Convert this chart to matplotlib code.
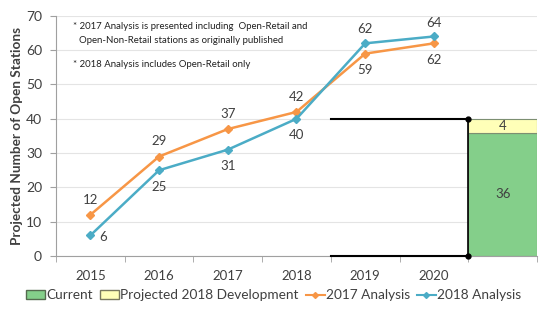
import matplotlib
matplotlib.use("Agg")
import matplotlib.pyplot as plt
from matplotlib.patches import Patch
from matplotlib.lines import Line2D

plt.rcParams['font.family'] = ['Lato', 'DejaVu Sans']

# --- data ---
years = ['2015', '2016', '2017', '2018', '2019', '2020']
analysis_2017 = [12, 29, 37, 42, 59, 62]
analysis_2018 = [6, 25, 31, 40, 62, 64]
current = 36
projected_dev = 4

orange = '#F79646'
blue = '#4BACC6'
green = '#84CF8A'
yellow = '#FFFFB8'
text_col = '#404040'
grid_col = '#E4E4E4'

fig = plt.figure(figsize=(5.51, 3.21), dpi=100)
ax = fig.add_axes([0.1016, 0.2025, 0.873, 0.748])

x = list(range(len(years)))
bar_x = len(years)

# stacked bar in the extra slot on the right
ax.bar(bar_x, current, width=1.0, color=green, edgecolor='#7D8F72', linewidth=0.8, zorder=2)
ax.bar(bar_x, projected_dev, bottom=current, width=1.0, color=yellow,
       edgecolor='#7D8F72', linewidth=0.8, zorder=2)
ax.text(bar_x, current / 2, str(current), ha='center', va='center', fontsize=9.5, color=text_col)
ax.text(bar_x, current + projected_dev / 2, str(projected_dev), ha='center', va='center',
        fontsize=9.5, color=text_col)

# black bracket lines pointing at the bar
edge = bar_x - 0.5
ax.plot([3.5, edge], [current + projected_dev] * 2, color='black', lw=1.5, zorder=4)
ax.plot([3.5, edge], [0, 0], color='black', lw=1.5, zorder=4, clip_on=False)
ax.plot([edge, edge], [0, current + projected_dev], color='black', lw=1.2, zorder=4)
ax.plot([edge, edge], [0, current + projected_dev], 'o', color='black', ms=3.5, zorder=5,
        clip_on=False)

# analysis lines
ax.plot(x, analysis_2017, color=orange, lw=1.8, marker='D', ms=4, zorder=3)
ax.plot(x, analysis_2018, color=blue, lw=1.8, marker='D', ms=4, zorder=3)

# value labels: 2017 above early / below late, 2018 the other way round
for i, v in enumerate(analysis_2017):
    off = 11 if i < 4 else -12
    ax.annotate(str(v), (i, v), xytext=(0, off), textcoords='offset points',
                ha='center', va='center', fontsize=9.5, color=text_col)
for i, v in enumerate(analysis_2018):
    if i == 0:
        ax.annotate(str(v), (i, v), xytext=(9, -1), textcoords='offset points',
                    ha='center', va='center', fontsize=9.5, color=text_col)
        continue
    off = -12 if i < 4 else 10
    ax.annotate(str(v), (i, v), xytext=(0, off), textcoords='offset points',
                ha='center', va='center', fontsize=9.5, color=text_col)

# notes
ax.text(0.035, 0.955, "* 2017 Analysis is presented including  Open-Retail and",
        transform=ax.transAxes, fontsize=6.9, color='#202020', va='center')
ax.text(0.048, 0.897, "Open-Non-Retail stations as originally published",
        transform=ax.transAxes, fontsize=6.9, color='#202020', va='center')
ax.text(0.035, 0.797, "* 2018 Analysis includes Open-Retail only",
        transform=ax.transAxes, fontsize=6.9, color='#202020', va='center')

# axes
ax.set_xlim(-0.5, len(years) + 0.5)
ax.set_ylim(0, 70)
ax.set_yticks(range(0, 71, 10))
ax.set_xticks(x + [bar_x])
ax.set_xticklabels(years + [''])
ax.set_xticks([i - 0.5 for i in range(len(years) + 2)], minor=True)
ax.tick_params(axis='x', which='major', length=0, pad=10, labelsize=9.5, colors=text_col)
ax.tick_params(axis='x', which='minor', length=4, color='#A0A0A0')
ax.tick_params(axis='y', length=4, color='#A0A0A0', labelsize=10, colors=text_col, pad=6)
ax.yaxis.grid(True, color=grid_col, lw=0.8, zorder=0)
ax.set_axisbelow(True)
for s in ['top', 'right']:
    ax.spines[s].set_visible(False)
for s in ['left', 'bottom']:
    ax.spines[s].set_color('#A0A0A0')
ax.set_ylabel('Projected Number of Open Stations', fontsize=9.8, fontweight='bold',
              color=text_col, labelpad=2)

handles = [
    Patch(facecolor=green, edgecolor='#556B4F', label='Current'),
    Patch(facecolor=yellow, edgecolor='#7A7A60', label='Projected 2018 Development'),
    Line2D([], [], color=orange, marker='D', ms=3, lw=1.5, label='2017 Analysis'),
    Line2D([], [], color=blue, marker='D', ms=3, lw=1.5, label='2018 Analysis'),
]
fig.legend(handles=handles, loc='center', bbox_to_anchor=(0.497, 0.08), ncol=4,
           frameon=False, fontsize=9.8, handlelength=1.4, handletextpad=0.1,
           columnspacing=0.5, labelcolor=text_col)

fig.savefig('out.png', dpi=100)
